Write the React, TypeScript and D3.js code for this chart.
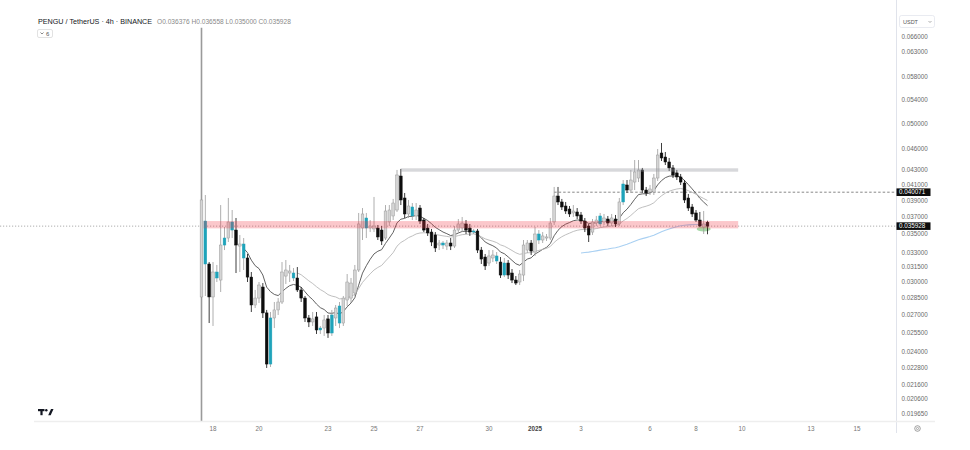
import React from 'react';
import * as d3 from 'd3';

// ---------- DATA ----------
const opens = [0.02861,0.03652,0.03181,0.02861,0.03100,0.03021,0.03381,0.03458,0.03641,0.03548,0.03370,0.03392,0.03243,0.03050,0.02788,0.02851,0.02954,0.02718,0.02306,0.02674,0.02744,0.02815,0.03060,0.03090,0.03090,0.03041,0.02926,0.02851,0.02674,0.02640,0.02683,0.02573,0.02589,0.02666,0.02548,0.02674,0.02779,0.02631,0.02833,0.02851,0.02898,0.03120,0.03571,0.03688,0.03571,0.03560,0.03571,0.03548,0.03458,0.03641,0.03712,0.03784,0.04221,0.03933,0.03736,0.03821,0.03712,0.03808,0.03664,0.03571,0.03525,0.03492,0.03381,0.03403,0.03370,0.03403,0.03370,0.03548,0.03571,0.03618,0.03571,0.03525,0.03537,0.03327,0.03253,0.03191,0.03243,0.03264,0.03201,0.03070,0.03191,0.03090,0.03021,0.03002,0.03070,0.03327,0.03403,0.03306,0.03503,0.03436,0.03458,0.03458,0.03641,0.03958,0.03883,0.03833,0.03796,0.03748,0.03760,0.03724,0.03652,0.03594,0.03525,0.03629,0.03618,0.03641,0.03676,0.03629,0.03676,0.03618,0.03883,0.04101,0.04035,0.04140,0.04194,0.04304,0.04035,0.04009,0.04009,0.04194,0.04545,0.04487,0.04416,0.04332,0.04263,0.04208,0.04127,0.03933,0.03821,0.03748,0.03664,0.03583,0.036376];
const highs = [0.06800,0.03971,0.03201,0.03201,0.03171,0.03845,0.03583,0.03933,0.03784,0.03688,0.03492,0.03458,0.03285,0.03100,0.02926,0.03002,0.02992,0.02744,0.02726,0.02815,0.02851,0.03201,0.03222,0.03171,0.03140,0.03150,0.02954,0.02870,0.02700,0.02726,0.02726,0.02606,0.02700,0.02700,0.02744,0.02788,0.02815,0.02870,0.03080,0.03041,0.03171,0.03748,0.03808,0.03748,0.03664,0.03946,0.03606,0.03594,0.03845,0.03845,0.03921,0.04304,0.04318,0.03997,0.03908,0.03870,0.03870,0.03845,0.03688,0.03618,0.03560,0.03525,0.03436,0.03425,0.03436,0.03458,0.03594,0.03676,0.03700,0.03664,0.03618,0.03560,0.03560,0.03360,0.03285,0.03327,0.03327,0.03306,0.03253,0.03243,0.03222,0.03130,0.03060,0.03120,0.03436,0.03436,0.03436,0.03583,0.03548,0.03525,0.03503,0.03688,0.04075,0.04075,0.03921,0.03883,0.03833,0.03845,0.03808,0.03760,0.03688,0.03618,0.03676,0.03712,0.03748,0.03736,0.03712,0.03736,0.03724,0.03933,0.04167,0.04167,0.04304,0.04444,0.04444,0.04332,0.04075,0.04101,0.04249,0.04604,0.04694,0.04560,0.04473,0.04373,0.04304,0.04249,0.04167,0.03984,0.03858,0.03784,0.03760,0.03772,0.036558];
const lows = [0.01900,0.02870,0.02631,0.02606,0.03002,0.02907,0.03327,0.03414,0.03458,0.03090,0.03100,0.03120,0.03002,0.02726,0.02761,0.02806,0.02674,0.02277,0.02284,0.02589,0.02700,0.02797,0.02983,0.03002,0.03011,0.02907,0.02815,0.02640,0.02597,0.02606,0.02540,0.02540,0.02524,0.02508,0.02524,0.02606,0.02589,0.02606,0.02779,0.02806,0.02870,0.03100,0.03436,0.03458,0.03525,0.03525,0.03436,0.03381,0.03436,0.03594,0.03664,0.03760,0.03845,0.03688,0.03688,0.03664,0.03664,0.03618,0.03525,0.03481,0.03370,0.03306,0.03327,0.03338,0.03327,0.03327,0.03349,0.03515,0.03525,0.03503,0.03481,0.03503,0.03295,0.03181,0.03120,0.03161,0.03201,0.03181,0.03041,0.03050,0.03031,0.02992,0.02973,0.02973,0.03011,0.03295,0.03274,0.03264,0.03392,0.03403,0.03425,0.03436,0.03606,0.03845,0.03784,0.03736,0.03700,0.03700,0.03676,0.03618,0.03525,0.03414,0.03492,0.03594,0.03594,0.03606,0.03594,0.03594,0.03583,0.03594,0.03845,0.03997,0.03997,0.04035,0.04140,0.03997,0.03958,0.03971,0.03971,0.04154,0.04430,0.04373,0.04290,0.04194,0.04167,0.04101,0.03870,0.03772,0.03700,0.03641,0.03583,0.03503,0.035000];
const closes = [0.03908,0.03181,0.02861,0.03100,0.03041,0.03381,0.03458,0.03641,0.03548,0.03381,0.03392,0.03243,0.03050,0.02788,0.02851,0.02973,0.02718,0.02306,0.02674,0.02744,0.02815,0.03100,0.03120,0.03110,0.03041,0.02926,0.02851,0.02674,0.02640,0.02666,0.02573,0.02589,0.02657,0.02548,0.02700,0.02761,0.02631,0.02851,0.03002,0.02992,0.03120,0.03618,0.03736,0.03571,0.03594,0.03594,0.03470,0.03425,0.03772,0.03784,0.03870,0.04235,0.03908,0.03736,0.03833,0.03712,0.03784,0.03652,0.03548,0.03515,0.03414,0.03349,0.03403,0.03381,0.03403,0.03370,0.03548,0.03618,0.03629,0.03548,0.03525,0.03537,0.03327,0.03232,0.03161,0.03264,0.03274,0.03212,0.03070,0.03191,0.03070,0.03021,0.02992,0.03080,0.03381,0.03403,0.03316,0.03503,0.03436,0.03481,0.03470,0.03629,0.03958,0.03883,0.03821,0.03772,0.03736,0.03772,0.03712,0.03652,0.03571,0.03492,0.03641,0.03664,0.03712,0.03688,0.03629,0.03688,0.03618,0.03883,0.04114,0.04035,0.04167,0.04276,0.04304,0.04035,0.03997,0.04048,0.04194,0.04516,0.04473,0.04416,0.04332,0.04235,0.04208,0.04140,0.03908,0.03808,0.03736,0.03664,0.03594,0.03618,0.035928];
const tealBars = [1,4,6,8,11,18,24,31,34,36,43,55,63,71,77,79,88,104,110];

const FIRST_BAR = Date.UTC(2024, 11, 17, 12);
const BAR_MS = 4 * 3600 * 1000;

const tickDates = [Date.UTC(2024,11,18), Date.UTC(2024,11,20), Date.UTC(2024,11,23), Date.UTC(2024,11,25), Date.UTC(2024,11,27), Date.UTC(2024,11,30), Date.UTC(2025,0,1), Date.UTC(2025,0,3), Date.UTC(2025,0,6), Date.UTC(2025,0,8), Date.UTC(2025,0,10), Date.UTC(2025,0,13), Date.UTC(2025,0,15)];
const tickLabels = ['18','20','23','25','27','30','2025','3','6','8','10','13','15'];

const priceTicks = [0.066, 0.063, 0.058, 0.054, 0.05, 0.046, 0.043, 0.041, 0.039, 0.037, 0.035, 0.033, 0.0315, 0.03, 0.0285, 0.027, 0.0255, 0.024, 0.0228, 0.0216, 0.0206, 0.01965];

const supportZone = [0.03567, 0.03652];
const supportTimes = [Date.UTC(2024,11,17,14), Date.UTC(2025,0,9,20)];
const resistZone = [0.04280, 0.04327];
const resistTimes = [Date.UTC(2024,11,26,4), Date.UTC(2025,0,9,20)];
const rayPrice = 0.040071;
const rayStart = Date.UTC(2025,0,1,20);
const lastPrice = 0.035928;
const markTime = Date.UTC(2025,0,8,8);
const markPrice = 0.0356;
const emaLengths = [12, 26, 100];
const emaColors = ['#505050', '#b8b8b8', '#a9d0f2'];

const headerTitle = 'PENGU / TetherUS · 4h · BINANCE';
const headerOHLC = 'O0.036376 H0.036558 L0.035000 C0.035928';

// ---------- HELPERS ----------
function ema(values: number[], n: number): (number | null)[] {
  const out: (number | null)[] = values.map(() => null);
  if (values.length < n) return out;
  let s = 0;
  for (let i = 0; i < n; i++) s += values[i];
  let prev = s / n;
  out[n - 1] = prev;
  const a = 2 / (n + 1);
  for (let i = n; i < values.length; i++) {
    prev = a * values[i] + (1 - a) * prev;
    out[i] = prev;
  }
  return out;
}

const FONT = '"Liberation Sans", Arial, sans-serif';

export default function App() {
  const x = d3.scaleUtc().domain([Date.UTC(2024, 11, 18), Date.UTC(2025, 0, 15)]).range([213, 857]);
  const y = d3.scaleLog().domain([0.066, 0.01965]).range([37, 413.8]);
  const times = closes.map((_, i) => FIRST_BAR + i * BAR_MS);
  const bodyW = 2.7;

  const emas = emaLengths.map((n) => ema(closes, n));
  const lineGen = d3
    .line<number | null>()
    .defined((d) => d != null)
    .x((_, i) => x(times[i]))
    .y((d) => y(d as number));

  const PLOT_R = 896;
  const PLOT_B = 421;

  return (
    <svg width={970} height={450} style={{ position: 'absolute', left: 0, top: 0, background: '#fff' }}>
      <defs>
        <clipPath id="plot">
          <rect x={0} y={0} width={PLOT_R} height={PLOT_B} />
        </clipPath>
      </defs>
      <rect x={0} y={0} width={970} height={450} fill="#fff" />

      <g clipPath="url(#plot)">
        {/* last price dotted line */}
        <line x1={0} x2={PLOT_R} y1={y(lastPrice)} y2={y(lastPrice)} stroke="#8a8a8a" strokeWidth={0.7} strokeDasharray="1.2,1.8" />
        {/* ray */}
        <line x1={x(rayStart)} x2={PLOT_R} y1={y(rayPrice)} y2={y(rayPrice)} stroke="#555" strokeWidth={0.7} strokeDasharray="2.5,2" />

        {/* green mark */}
        <ellipse cx={x(markTime)} cy={y(markPrice)} rx={7} ry={2.6} fill="#5cb85c" opacity={0.55} />

        {/* EMA lines */}
        {emas.map((e, k) => (
          <path key={k} d={lineGen(e) || ''} fill="none" stroke={emaColors[k]} strokeWidth={k === 2 ? 1.1 : 0.9} />
        ))}

        {/* candles */}
        {closes.map((c, i) => {
          const o = opens[i];
          const up = c >= o;
          const teal = tealBars.includes(i);
          const cx = x(times[i]);
          const yTop = y(Math.max(o, c));
          const yBot = y(Math.min(o, c));
          const h = Math.max(0.8, yBot - yTop);
          const body = teal ? '#1fa3ba' : up ? '#d5d5d5' : '#0d0d0d';
          const edge = teal ? '#1fa3ba' : up ? '#9a9a9a' : '#0d0d0d';
          const wick = teal ? '#9a9a9a' : up ? '#9a9a9a' : '#0d0d0d';
          return (
            <g key={i}>
              <line x1={cx} x2={cx} y1={y(highs[i])} y2={y(lows[i])} stroke={wick} strokeWidth={i === 0 ? 1.6 : 0.8} />
              <rect x={cx - bodyW / 2} y={yTop} width={bodyW} height={h} fill={body} stroke={edge} strokeWidth={0.5} />
            </g>
          );
        })}

        {/* zones */}
        <rect
          x={x(supportTimes[0])}
          width={x(supportTimes[1]) - x(supportTimes[0])}
          y={y(supportZone[1])}
          height={y(supportZone[0]) - y(supportZone[1])}
          fill="#f23645"
          opacity={0.28}
        />
        <rect
          x={x(resistTimes[0])}
          width={x(resistTimes[1]) - x(resistTimes[0])}
          y={y(resistZone[1])}
          height={y(resistZone[0]) - y(resistZone[1])}
          fill="#9598a1"
          opacity={0.38}
        />
      </g>

      {/* header */}
      <text x={38} y={24} fontFamily={FONT} fontSize={7.2} fill="#131722">{headerTitle}</text>
      <text x={157} y={24} fontFamily={FONT} fontSize={6.6} fill="#8a8a8a">{headerOHLC}</text>
      <rect x={37.5} y={29.5} width={15} height={8} rx={1.5} fill="#fff" stroke="#d6d6d6" strokeWidth={0.7} />
      <path d="M40.5,32.5 L42,34 L43.5,32.5" fill="none" stroke="#555" strokeWidth={0.7} />
      <text x={46} y={36} fontFamily={FONT} fontSize={6} fill="#555">6</text>

      {/* right axis */}
      <line x1={PLOT_R + 0.5} x2={PLOT_R + 0.5} y1={0} y2={433} stroke="#e0e3eb" strokeWidth={1} />
      <rect x={899.5} y={15.5} width={35} height={12} rx={2} fill="#fff" stroke="#e0e3eb" strokeWidth={0.7} />
      <text x={903} y={23.8} fontFamily={FONT} fontSize={5.5} fill="#555">USDT</text>
      <path d="M928.5,21 L930,22.5 L931.5,21" fill="none" stroke="#777" strokeWidth={0.6} />
      {priceTicks.map((p, i) => (
        <text key={i} x={901.5} y={y(p)} dy="0.35em" fontFamily={FONT} fontSize={6.3} fill="#6a6a6a">
          {p.toFixed(6)}
        </text>
      ))}
      {[rayPrice, lastPrice].map((p, i) => (
        <g key={i}>
          <rect x={896.5} y={y(p) - 3.8} width={34} height={7.6} fill="#0d0d0d" />
          <text x={899} y={y(p)} dy="0.35em" fontFamily={FONT} fontSize={6.3} fill="#fff">{p.toFixed(6)}</text>
        </g>
      ))}

      {/* bottom axis */}
      <line x1={34} x2={935} y1={421.5} y2={421.5} stroke="#eeeeee" strokeWidth={1.6} />
      {tickDates.map((t, i) => (
        <text key={i} x={x(t)} y={431} textAnchor="middle" fontFamily={FONT} fontSize={6.3}
          fill={tickLabels[i] === '2025' ? '#444' : '#777'} fontWeight={tickLabels[i] === '2025' ? 'bold' : 'normal'}>
          {tickLabels[i]}
        </text>
      ))}
      {/* settings icon */}
      <circle cx={917.5} cy={428.5} r={2.8} fill="none" stroke="#777" strokeWidth={0.7} />
      <circle cx={917.5} cy={428.5} r={1.1} fill="none" stroke="#777" strokeWidth={0.6} />

      {/* TV logo */}
      <g fill="#131722">
        <rect x={38} y={409} width={6.5} height={2.2} />
        <rect x={40.4} y={409} width={2.2} height={6.2} />
        <circle cx={46.3} cy={410.2} r={1.2} />
        <path d="M48.2,415.2 L51,409 L53.5,409 L50.7,415.2 Z" />
      </g>
    </svg>
  );
}
